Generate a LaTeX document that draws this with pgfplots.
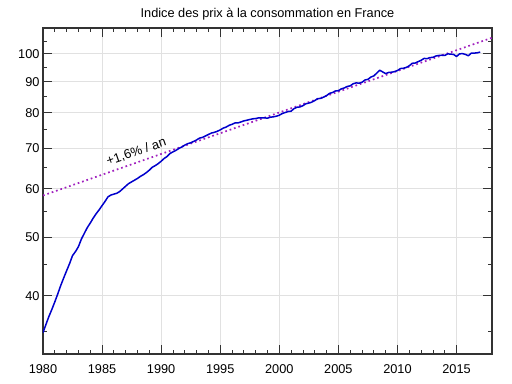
\documentclass[border=0pt]{standalone}
\usepackage{fontspec}
\setmainfont{Liberation Sans}
\usepackage{pgfplots}
\pgfplotsset{compat=1.18}
\definecolor{cpiblue}{RGB}{0,0,204}
\definecolor{trendpurple}{RGB}{160,32,190}
\definecolor{gridgray}{RGB}{225,225,225}
\begin{document}
\begin{tikzpicture}
\begin{axis}[
  scale only axis,
  width=449bp, height=326bp,
  ymode=log,
  xmin=1980, xmax=2018,
  ymin=32.1, ymax=110.3,
  xtick={1980,1985,...,2015},
  minor x tick num=4,
  ytick={40,50,60,70,80,90,100},
  yticklabels={40,50,60,70,80,90,100},
  minor ytick={35,45,55,65,75,85,95,105},
  log basis y=10,
  xticklabel style={/pgf/number format/1000 sep={}, yshift=-7bp},
  /pgf/number format/assume math mode=true,
  tick label style={font=\fontsize{12.8}{15}\selectfont},
  ticklabel style={text=black},
  xmajorgrids, ymajorgrids,
  major grid style={gridgray, line width=0.8bp},
  major tick length=9bp,
  minor tick length=4.5bp,
  tick style={black!80, line width=0.8bp},
  axis line style={black!80, line width=1.3bp},
  title={Indice des prix à la consommation en France},
  title style={font=\fontsize{12.8}{15}\selectfont, anchor=base, at={(0.5,1)}, yshift=5bp},
  clip=true,
]
\addplot[trendpurple, line width=1.7bp, dash pattern=on 1.7bp off 2.9bp] coordinates {(1980,58.5) (2018,106.3)};
\addplot[cpiblue, line width=1.5bp, line join=round] coordinates {
(1980.00,34.8) (1980.25,35.9) (1980.50,37.0) (1980.75,38.0)
(1981.00,39.1) (1981.25,40.3) (1981.50,41.6) (1981.75,42.8)
(1982.00,44.0) (1982.25,45.2) (1982.50,46.6) (1982.75,47.3)
(1983.00,48.2) (1983.25,49.6) (1983.50,50.7) (1983.75,51.8)
(1984.00,52.7) (1984.25,53.7) (1984.50,54.6) (1984.75,55.4)
(1985.00,56.3) (1985.25,57.2) (1985.50,58.2) (1985.75,58.6)
(1986.00,58.8) (1986.25,59.0) (1986.50,59.4) (1986.75,60.0)
(1987.00,60.6) (1987.25,61.2) (1987.50,61.6) (1987.75,62.0)
(1988.00,62.4) (1988.25,62.9) (1988.50,63.3) (1988.75,63.8)
(1989.00,64.4) (1989.25,65.1) (1989.50,65.5) (1989.75,66.0)
(1990.00,66.6) (1990.25,67.3) (1990.50,67.8) (1990.75,68.6)
(1991.00,69.0) (1991.25,69.4) (1991.50,69.9) (1991.75,70.3)
(1992.00,70.8) (1992.25,71.2) (1992.50,71.4) (1992.75,71.8)
(1993.00,72.2) (1993.25,72.7) (1993.50,72.9) (1993.75,73.3)
(1994.00,73.7) (1994.25,74.1) (1994.50,74.3) (1994.75,74.6)
(1995.00,75.0) (1995.25,75.5) (1995.50,75.8) (1995.75,76.3)
(1996.00,76.6) (1996.25,77.0) (1996.50,77.0) (1996.75,77.3)
(1997.00,77.6) (1997.25,77.8) (1997.50,78.0) (1997.75,78.2)
(1998.00,78.3) (1998.25,78.5) (1998.50,78.5) (1998.75,78.5)
(1999.00,78.4) (1999.25,78.7) (1999.50,78.8) (1999.75,79.0)
(2000.00,79.3) (2000.25,79.8) (2000.50,80.1) (2000.75,80.4)
(2001.00,80.5) (2001.25,81.3) (2001.50,81.7) (2001.75,81.8)
(2002.00,82.2) (2002.25,82.8) (2002.50,83.0) (2002.75,83.3)
(2003.00,83.8) (2003.25,84.4) (2003.50,84.5) (2003.75,84.9)
(2004.00,85.4) (2004.25,86.1) (2004.50,86.4) (2004.75,86.9)
(2005.00,87.0) (2005.25,87.6) (2005.50,87.9) (2005.75,88.4)
(2006.00,88.6) (2006.25,89.3) (2006.50,89.6) (2006.75,89.5)
(2007.00,89.8) (2007.25,90.6) (2007.50,90.8) (2007.75,91.6)
(2008.00,92.0) (2008.25,93.0) (2008.50,94.0) (2008.75,93.4)
(2009.00,92.8) (2009.25,93.2) (2009.50,93.3) (2009.75,93.5)
(2010.00,93.9) (2010.25,94.6) (2010.50,94.7) (2010.75,95.0)
(2011.00,95.6) (2011.25,96.5) (2011.50,96.6) (2011.75,97.1)
(2012.00,97.6) (2012.25,98.3) (2012.50,98.2) (2012.75,98.6)
(2013.00,98.7) (2013.25,99.2) (2013.50,99.4) (2013.75,99.5)
(2014.00,99.4) (2014.25,100.0) (2014.50,99.9) (2014.75,99.8)
(2015.00,99.0) (2015.25,100.0) (2015.50,100.1) (2015.75,99.8)
(2016.00,99.3) (2016.25,100.3) (2016.50,100.3) (2016.75,100.4)
(2017.00,100.7)
};
\node[rotate=19, font=\fontsize{13}{15}\selectfont] at (axis cs:1987.9,69.0) {+1,6\% / an};
\end{axis}
\path ([xshift=-43bp,yshift=-30bp]current axis.south west) rectangle ([xshift=20bp,yshift=28bp]current axis.north east);
\end{tikzpicture}
\end{document}
